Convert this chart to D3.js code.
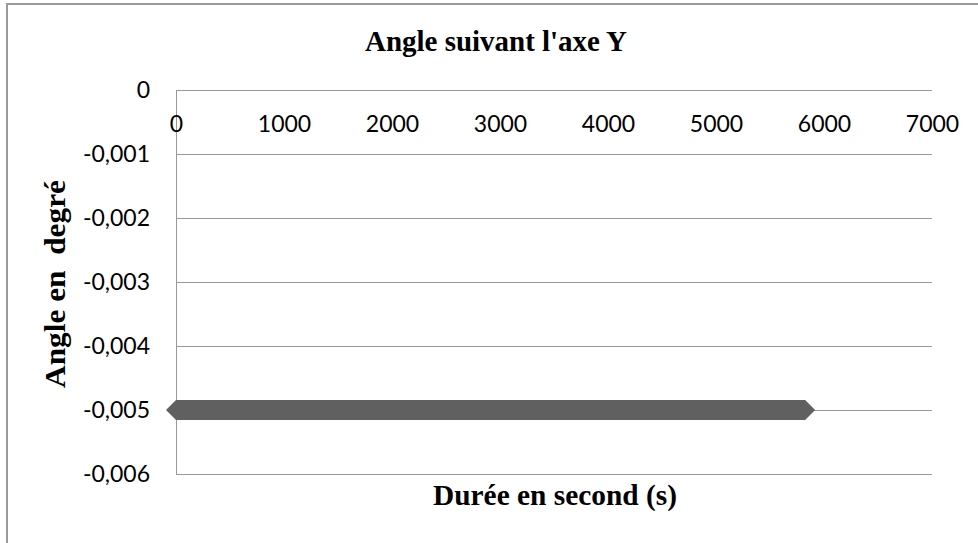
<!DOCTYPE html>
<html>
<head>
<meta charset="utf-8">
<script src="https://cdn.jsdelivr.net/npm/d3@7"></script>
<style>
  body { margin: 0; background: #fff; }
  svg { display: block; }
</style>
</head>
<body>
<div id="chart"></div>
<script>
// data
const times = [0, 500, 1000, 1500, 2000, 2500, 3000, 3500, 4000, 4500, 5000, 5500, 5825];
const angles = [-0.005, -0.005, -0.005, -0.005, -0.005, -0.005, -0.005, -0.005, -0.005, -0.005, -0.005, -0.005, -0.005];
const xTicks = [0, 1000, 2000, 3000, 4000, 5000, 6000, 7000];
const yTicks = [0, -0.001, -0.002, -0.003, -0.004, -0.005, -0.006];
const yTickLabels = ["0", "-0,001", "-0,002", "-0,003", "-0,004", "-0,005", "-0,006"];

const width = 978;
const height = 543;
const plot = { left: 176, right: 932, top: 90, bottom: 474 };

const svg = d3.select("#chart")
  .append("svg")
  .attr("width", width)
  .attr("height", height);

// chart frame (runs off the right and bottom edges)
svg.append("rect")
  .attr("x", 7)
  .attr("y", 4)
  .attr("width", 1000)
  .attr("height", 600)
  .attr("fill", "#fff")
  .attr("stroke", "#9a9a9a")
  .attr("stroke-width", 2);

let xScale = d3.scaleLinear().domain([0, 7000]).range([plot.left, plot.right]);
let yScale = d3.scaleLinear().domain([-0.006, 0]).range([plot.bottom, plot.top]);

// horizontal gridlines
let grid = svg.append("g")
  .attr("transform", "translate(" + plot.left + ",0)")
  .call(d3.axisLeft(yScale).tickValues(yTicks).tickSize(-(plot.right - plot.left)).tickFormat(""));
grid.select(".domain").remove();
grid.selectAll(".tick line").attr("stroke", "#999").attr("shape-rendering", "crispEdges");

// vertical axis line
svg.append("line")
  .attr("x1", plot.left).attr("x2", plot.left)
  .attr("y1", plot.top).attr("y2", plot.bottom)
  .attr("stroke", "#999")
  .attr("shape-rendering", "crispEdges");

// y tick labels
let yAxis = svg.append("g")
  .attr("transform", "translate(" + (plot.left - 26) + ",0)")
  .call(d3.axisLeft(yScale).tickValues(yTicks).tickSize(0).tickPadding(0)
    .tickFormat((d, i) => yTickLabels[i]));
yAxis.select(".domain").remove();
yAxis.selectAll("text")
  .attr("font-family", "Lato, 'Open Sans', sans-serif")
  .attr("font-size", 23)
  .attr("fill", "#000");

// x tick labels sit under the zero line (top of the plot)
let xAxis = svg.append("g")
  .attr("transform", "translate(0," + plot.top + ")")
  .call(d3.axisBottom(xScale).tickValues(xTicks).tickSize(0).tickPadding(0).tickFormat(d3.format("d")));
xAxis.select(".domain").remove();
xAxis.selectAll("text")
  .attr("font-family", "Lato, 'Open Sans', sans-serif")
  .attr("font-size", 23)
  .attr("fill", "#000")
  .attr("y", 42)
  .attr("dy", "0");

// series: thick line + diamond markers
let points = times.map((t, i) => [t, angles[i]]);
svg.append("path")
  .datum(points)
  .attr("fill", "none")
  .attr("stroke", "#606060")
  .attr("stroke-width", 20)
  .attr("d", d3.line().x(d => xScale(d[0])).y(d => yScale(d[1])));

svg.selectAll(".marker")
  .data(points)
  .enter()
  .append("path")
  .attr("class", "marker")
  .attr("transform", d => "translate(" + xScale(d[0]) + "," + yScale(d[1]) + ")")
  .attr("d", "M-10,0L0,-10L10,0L0,10Z")
  .attr("fill", "#606060");

// titles
const serif = "'Liberation Serif', 'Times New Roman', serif";

svg.append("text")
  .attr("x", 496)
  .attr("y", 51)
  .attr("text-anchor", "middle")
  .attr("font-family", serif)
  .attr("font-weight", "bold")
  .attr("font-size", 29)
  .attr("textLength", 262)
  .attr("lengthAdjust", "spacingAndGlyphs")
  .text("Angle suivant l'axe Y");

svg.append("text")
  .attr("x", 555)
  .attr("y", 505)
  .attr("text-anchor", "middle")
  .attr("font-family", serif)
  .attr("font-weight", "bold")
  .attr("font-size", 29)
  .attr("textLength", 244)
  .attr("lengthAdjust", "spacingAndGlyphs")
  .text("Durée en second (s)");

svg.append("text")
  .attr("transform", "translate(65,284) rotate(-90)")
  .attr("text-anchor", "middle")
  .attr("xml:space", "preserve")
  .style("white-space", "pre")
  .attr("font-family", serif)
  .attr("font-weight", "bold")
  .attr("font-size", 29)
  .attr("textLength", 208)
  .attr("lengthAdjust", "spacingAndGlyphs")
  .text("Angle en  degré");
</script>
</body>
</html>
